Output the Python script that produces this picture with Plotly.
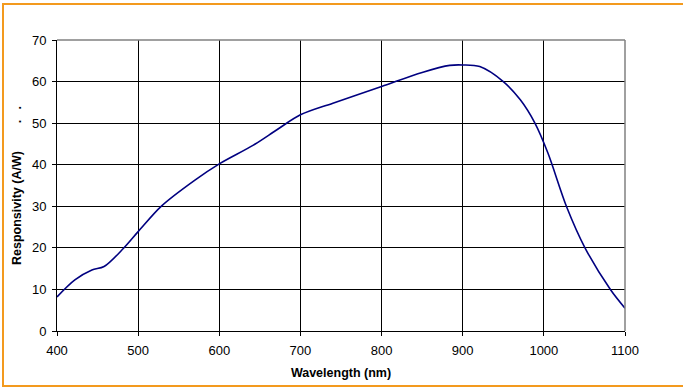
import plotly.graph_objects as go

wavelength = [400, 422, 443, 458, 482, 500, 529, 570, 600, 642, 671, 700, 740,
              800, 850, 884, 900, 921, 950, 971, 989, 1005, 1028, 1051, 1082, 1100]
responsivity = [8.2, 12.3, 14.7, 15.5, 19.9, 23.9, 30.1, 36.3, 40.2, 44.7, 48.4, 52.0, 54.8,
                58.8, 62.2, 63.9, 64.0, 63.6, 60.0, 55.6, 50.0, 42.8, 29.9, 19.9, 10.0, 5.5]

x_ticks = [400, 500, 600, 700, 800, 900, 1000, 1100]
y_ticks = [0, 10, 20, 30, 40, 50, 60, 70]

fig = go.Figure()
fig.add_trace(go.Scatter(
    x=wavelength, y=responsivity, mode="lines",
    line=dict(color="#000080", width=1.6, shape="spline", smoothing=0.9),
    hoverinfo="skip", showlegend=False,
))

font_family = "Liberation Sans, Arial, sans-serif"
nb = "&nbsp;"
fig.update_layout(
    width=683, height=388,
    margin=dict(l=57, r=58, t=40, b=57),
    paper_bgcolor="white", plot_bgcolor="white",
    font=dict(family=font_family, size=13, color="black"),
    xaxis=dict(
        range=[400, 1100], tickvals=x_ticks, showgrid=True, gridcolor="black", gridwidth=1,
        showline=True, linecolor="black", linewidth=1, ticks="outside", ticklen=4,
        tickcolor="black", zeroline=False, tickfont=dict(size=13), ticklabelstandoff=3,
        title=dict(text="<b>Wavelength (nm)</b>", font=dict(size=12.5), standoff=11),
    ),
    yaxis=dict(
        range=[0, 70], tickvals=y_ticks, showgrid=True, gridcolor="black", gridwidth=1,
        showline=True, linecolor="black", linewidth=1, ticks="outside", ticklen=4,
        tickcolor="black", zeroline=False, tickfont=dict(size=13), ticklabelstandoff=3,
        title=dict(text="<b>Responsivity (A/W)" + nb * 8 + "." + nb * 3 + ".</b>",
                   font=dict(size=12.5), standoff=7),
    ),
    shapes=[
        dict(type="line", xref="paper", yref="paper", x0=0, x1=1, y0=1, y1=1,
             line=dict(color="#808080", width=1.5)),
        dict(type="line", xref="paper", yref="paper", x0=1, x1=1, y0=0, y1=1,
             line=dict(color="#808080", width=1.5)),
        dict(type="rect", xref="paper", yref="paper",
             x0=(3 - 57) / 568, x1=(700 - 57) / 568,
             y0=(331 - 386) / 291, y1=(331 - 4) / 291,
             line=dict(color="#F39A1E", width=2), fillcolor="rgba(0,0,0,0)", layer="above"),
    ],
)

fig.write_html(
    "out.html",
    config={"displayModeBar": False},
    post_script="document.body.style.margin='0';document.body.style.overflow='hidden';",
)
